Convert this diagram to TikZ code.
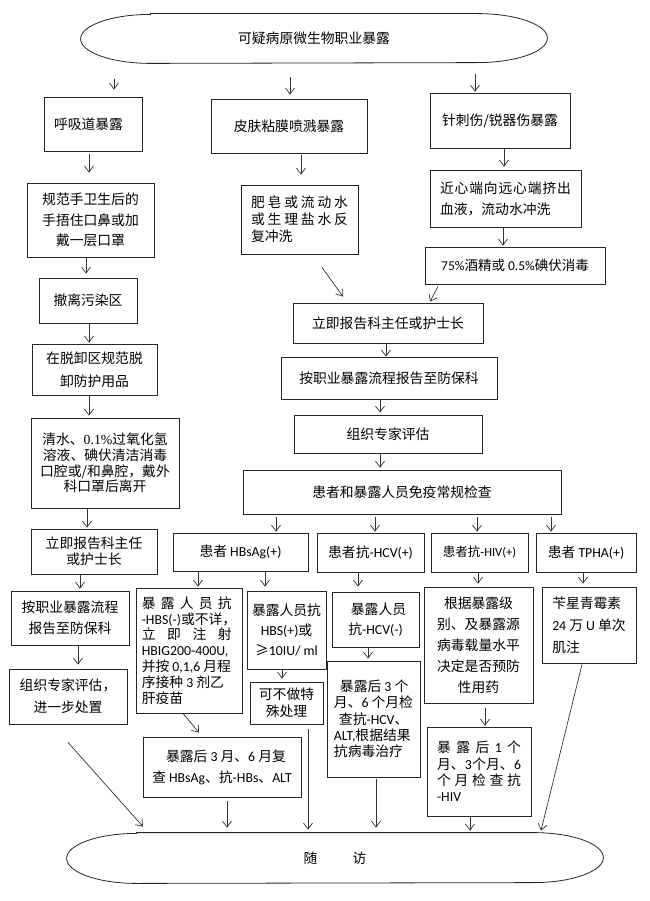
\documentclass[tikz,border=0pt]{standalone}
\usepackage{fontspec}
\setmainfont{Noto Sans CJK SC}
\newfontfamily\lat{Carlito}
\newfontfamily\ser{Liberation Serif}
\usetikzlibrary{arrows.meta,calc}
\newcommand\fs[2]{\fontsize{#1pt}{#2pt}\selectfont}
\newcommand\spr[2]{\makebox[#1]{#2}}
\tikzset{
  box/.style={draw=black!85, line width=0.8pt, inner sep=0pt, align=center, font=\fs{13.8}{20}},
  arr/.style={draw=black!80, line width=0.7pt, -{Straight Barb[length=6pt,width=9pt]}},
  shp/.style={draw=black!85, line width=0.8pt},
}
\newcommand\varrow[5]{\draw[arr,shorten <=#4pt,shorten >=#5pt] (#1.south -| #3,0) -- (#2.north -| #3,0);}
\begin{document}
\begin{tikzpicture}[x=1pt,y=-1pt]
\fill[white] (0,0) rectangle (649,901);
\useasboundingbox (0,0) rectangle (649,901);

% top terminator
\node[box,draw=none,minimum width=466pt,minimum height=49pt] (top) at (314,38.5) {可疑病原微生物职业暴露};
\draw[shp] ([xshift=70]top.north west) -- ([xshift=-70]top.north east)
  .. controls +(38.66,0) and +(0,-13.53) .. ++(70,24.5)
  .. controls +(0,13.53) and +(38.66,0) .. ++(-70,24.5)
  -- ([xshift=70]top.south west)
  .. controls +(-38.66,0) and +(0,13.53) .. ++(-70,-24.5)
  .. controls +(0,-13.53) and +(-38.66,0) .. ++(70,-24.5) -- cycle;

% left column
\node[box,minimum width=98pt,minimum height=54pt] (A1) at (93,124) {呼吸道暴露\hspace*{9pt}};
\node[box,minimum width=127pt,minimum height=74pt,font=\fs{13.8}{20.5}] (A2) at (90.5,220) {规范手卫生后的\\手捂住口鼻或加\\戴一层口罩};
\node[box,minimum width=98pt,minimum height=45pt] (A3) at (88,300.5) {撤离污染区};
\node[box,minimum width=125pt,minimum height=51pt,font=\fs{13.8}{23}] (A4) at (94.5,369.5) {在脱卸区规范脱\\卸防护用品};
\node[box,minimum width=148pt,minimum height=90pt,font=\fs{13.8}{15.7}] (A5) at (105,463) {清水、{\ser 0.1\%}过氧化氢\\溶液、碘伏清洁消毒\\口腔或/和鼻腔，戴外\\科口罩后离开};
\node[box,minimum width=126pt,minimum height=45pt,font=\fs{13.8}{16}] (A6) at (94,551.5) {立即报告科主任\\或护士长};
\node[box,minimum width=118pt,minimum height=54pt,font=\fs{13.8}{21}] (A7) at (70,618) {按职业暴露流程\\报告至防保科};
\node[box,minimum width=118pt,minimum height=55pt,font=\fs{13.8}{22}] (A8) at (68,696.5) {组织专家评估，\\进一步处置};

% middle column top
\node[box,minimum width=156pt,minimum height=54pt] (B1) at (289,126) {皮肤粘膜喷溅暴露};
\node[box,minimum width=117pt,minimum height=69pt,align=left,font=\fs{13.8}{17}] (B2) at (299.5,219.5)
  {\spr{97pt}{肥\hfill 皂\hfill 或\hfill 流\hfill 动\hfill 水}\\\spr{97pt}{或\hfill 生\hfill 理\hfill 盐\hfill 水\hfill 反}\\复冲洗};

% right column top
\node[box,minimum width=140pt,minimum height=55pt] (C1) at (500,120.5) {针刺伤/锐器伤暴露};
\node[box,minimum width=151pt,minimum height=57pt,align=left,font=\fs{13.8}{21}] (C2) at (505.5,198.5)
  {\spr{131pt}{近\hfill 心\hfill 端\hfill 向\hfill 远\hfill 心\hfill 端\hfill 挤\hfill 出}\\血液，流动水冲洗};
\node[box,minimum width=180pt,minimum height=37pt,font=\fs{13.5}{16}] (C3) at (515,265.5) {{\lat 75\%}酒精或 {\lat 0.5\%}碘伏消毒};

% central chain
\node[box,minimum width=190pt,minimum height=40pt] (M1) at (388,323) {立即报告科主任或护士长};
\node[box,minimum width=216pt,minimum height=42pt] (M2) at (389,378) {按职业暴露流程报告至防保科};
\node[box,minimum width=188pt,minimum height=38pt] (M3) at (388,434) {组织专家评估};
\node[box,minimum width=318pt,minimum height=44pt] (M4) at (402,492) {患者和暴露人员免疫常规检查};

% test row
\node[box,minimum width=135pt,minimum height=38pt] (D1) at (240.5,552) {患者 {\lat HBsAg(+)}};
\node[box,minimum width=107pt,minimum height=39pt] (E1) at (370.5,552.5) {患者抗{\lat -HCV(+)}};
\node[box,minimum width=97pt,minimum height=39pt,font=\fs{12.5}{15}] (F1) at (479.5,552.5) {患者抗{\lat -HIV(+)}};
\node[box,minimum width=100pt,minimum height=39pt] (G1) at (586,552.5) {患者 {\lat TPHA(+)}};

% HBsAg branch
\node[box,minimum width=106pt,minimum height=125pt,align=left,font=\fs{13.8}{15.8}] (D2) at (189,650.5)
  {\spr{90pt}{暴\hfill 露\hfill 人\hfill 员\hfill 抗}\\{\lat -HBS(-)}或不详，\\\spr{90pt}{立\hfill 即\hfill 注\hfill 射}\\{\lat HBIG200-400U,}\\并按 {\lat 0,1,6} 月程\\序接种 {\lat 3} 剂乙\\肝疫苗};
\node[box,minimum width=79pt,minimum height=78pt,font=\fs{13.8}{20}] (D3) at (286.5,630) {暴露人员抗\\{\lat HBS(+)}或\\≥{\lat 10IU/ ml}};
\node[box,minimum width=73pt,minimum height=42pt,font=\fs{13.8}{17}] (D4) at (286.5,703) {可不做特\\殊处理};
\node[box,minimum width=158pt,minimum height=60pt,font=\fs{13.8}{21}] (D5) at (222,767) {\hspace*{8pt}暴露后 {\lat 3} 月、{\lat 6} 月复\\查 {\lat HBsAg}、抗{\lat -HBs}、{\lat ALT}};

% HCV branch
\node[box,minimum width=87pt,minimum height=55pt,font=\fs{13.8}{20}] (E2) at (375.5,619.5) {\hspace*{6pt}暴露人员\\抗{\lat -HCV(-)}};
\node[box,minimum width=93pt,minimum height=116pt,align=left,font=\fs{13.8}{16.3}] (E3) at (373.5,719)
  {\hspace*{6pt}暴露后 {\lat 3} 个\\月、{\lat 6} 个月检\\\hspace*{5pt}查抗{\lat -HCV}、\\{\lat ALT,}根据结果\\抗病毒治疗};

% HIV branch
\node[box,minimum width=109pt,minimum height=116pt,font=\fs{13.8}{21}] (F2) at (478.5,645) {根据暴露级\\别、及暴露源\\病毒载量水平\\决定是否预防\\性用药};
\node[box,minimum width=104pt,minimum height=89pt,align=left,font=\fs{13.8}{16.3}] (F3) at (479,771.5)
  {\spr{84pt}{暴\hfill 露\hfill 后\hfill {\lat 1}\hfill 个}\\\spr{84pt}{月、\hfill{\lat 3}\hfill 个月、\hfill{\lat 6}}\\\spr{84pt}{个\hfill 月\hfill 检\hfill 查\hfill 抗}\\{\lat -HIV}};

% TPHA branch
\node[box,minimum width=94pt,minimum height=76pt,align=left,font=\fs{13.8}{22}] (G2) at (589,625) {苄星青霉素\\{\lat 24} 万 {\lat U} 单次\\肌注};

% bottom terminator
\node[box,draw=none,minimum width=536pt,minimum height=50pt] (bot) at (335,858) {随\hspace{35pt}访};
\draw[shp] ([xshift=70]bot.north west) -- ([xshift=-70]bot.north east)
  .. controls +(38.66,0) and +(0,-13.8) .. ++(70,25)
  .. controls +(0,13.8) and +(38.66,0) .. ++(-70,25)
  -- ([xshift=70]bot.south west)
  .. controls +(-38.66,0) and +(0,13.8) .. ++(-70,-25)
  .. controls +(0,-13.8) and +(-38.66,0) .. ++(70,-25) -- cycle;

% vertical connectors
\varrow{top}{A1}{114}{16}{7}
\varrow{top}{B1}{290}{14}{4}
\varrow{top}{C1}{475}{11}{1}
\varrow{A1}{A2}{89}{3}{10}
\varrow{B1}{B2}{301}{2}{10}
\varrow{C1}{C2}{504}{0}{3}
\varrow{A2}{A3}{86}{0}{4}
\varrow{A3}{A4}{89}{0}{1}
\varrow{A4}{A5}{89}{0}{2}
\varrow{A5}{A6}{87}{0}{1}
\varrow{A6}{A7}{80}{0}{2}
\varrow{A7}{A8}{78}{0}{4}
\varrow{C2}{C3}{503}{0}{1}
\varrow{M1}{M2}{386}{0}{0}
\varrow{M2}{M3}{380}{0}{2}
\varrow{M3}{M4}{380}{0}{2}
\varrow{M4}{D1}{276}{3}{1}
\varrow{M4}{E1}{375}{3}{1}
\varrow{M4}{F1}{477}{3}{1}
\varrow{M4}{G1}{551}{3}{1}
\varrow{D1}{D2}{198}{0}{1}
\varrow{D1}{D3}{265}{0}{4}
\varrow{E1}{E2}{358}{0}{5}
\varrow{F1}{F2}{478}{0}{3}
\varrow{G1}{G2}{583}{0}{3}
\varrow{D3}{D4}{282}{0}{3}
\varrow{E2}{E3}{368}{0}{2}
\varrow{F2}{F3}{485}{5}{1}
\varrow{D4}{bot}{308}{5}{3}
\varrow{D5}{bot}{227}{4}{5}
\varrow{E3}{bot}{376}{2}{5}
\varrow{F3}{bot}{470}{1}{2}

% diagonal connectors
\draw[arr] ($(B2.south)+(22.5,13)$) -- ($(M1.north)+(-45,-6)$);
\draw[arr] ($(C3.south)+(-77,2)$) -- ($(M1.north)+(42,-1)$);
\draw[arr] ($(D2.south)+(-6,0)$) -- ($(D5.north)+(-23,-4)$);
\draw[arr] ($(A8.south)+(0,18)$) -- ($(bot.north)+(-192,-6)$);
\draw[arr] ($(G2.south)+(-7,1)$) -- ($(bot.north)+(206,-2)$);
\end{tikzpicture}
\end{document}
